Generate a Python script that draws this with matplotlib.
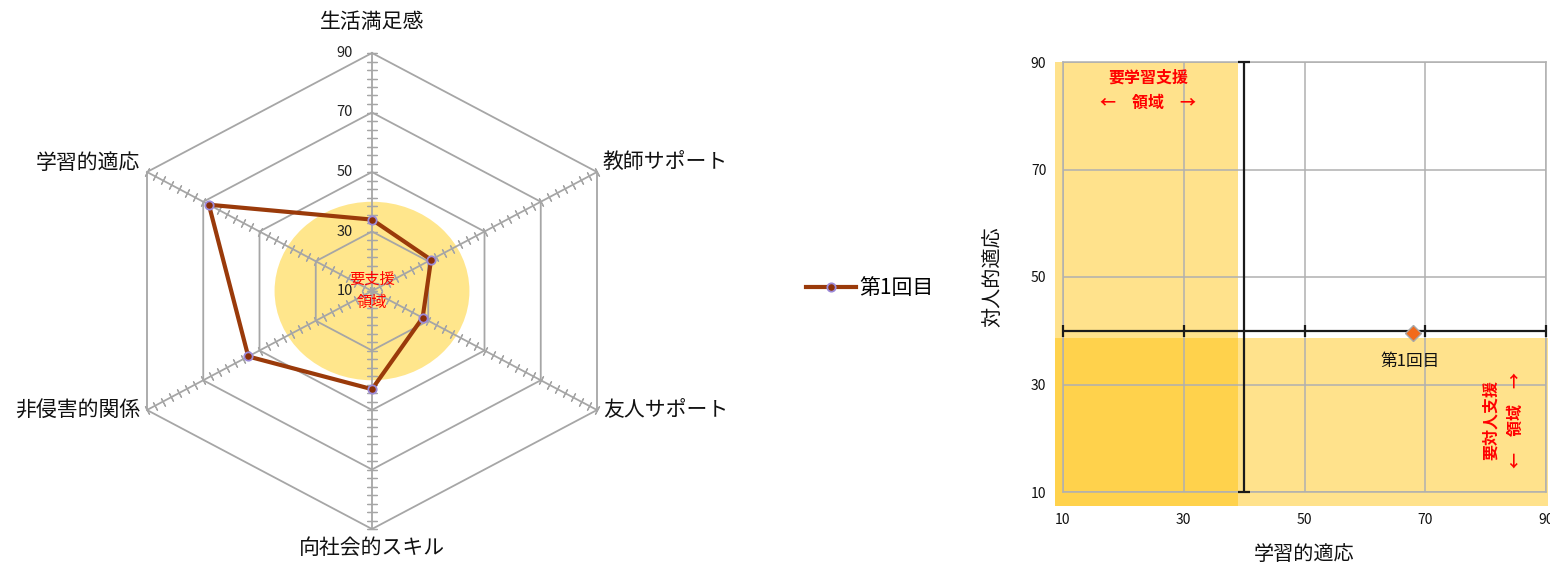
import numpy as np
import matplotlib
matplotlib.use("Agg")
import matplotlib.pyplot as plt
from matplotlib.patches import Circle, Rectangle
from matplotlib.lines import Line2D

plt.rcParams['font.family'] = ['Noto Sans CJK JP', 'DejaVu Sans']

# ---------------- data ----------------
categories = ["生活満足感", "教師サポート", "友人サポート", "向社会的スキル", "非侵害的関係", "学習的適応"]
radar_values = [34, 31, 28, 43, 54, 68]
series_name = "第1回目"
radar_ticks = [10, 30, 50, 70, 90]
radar_min, radar_max = 10, 90
support_radius = 40          # radius of the "要支援領域" circle

scatter_x = [68]             # 学習的適応
scatter_y = [39.5]           # 対人的適応
scatter_ticks = [10, 30, 50, 70, 90]
cross_x, cross_y = 40, 40    # axes crossing
band_limit_x, band_limit_y = 39, 38.7

W, H = 1550, 566
fig = plt.figure(figsize=(W / 100, H / 100), dpi=100)

# ---------------- radar (manual, horizontally stretched) ----------------
cx, cy = 372, 291
ry = 238                      # px for 80 units vertically
sx = 225 / (80 * np.cos(np.pi / 6))  # px per unit horizontally
sy = ry / 80
X = 80
axw = 2 * X * sx
axh = 2 * 80 * sy
axr = fig.add_axes([(cx - axw / 2) / W, (H - cy - axh / 2) / H, axw / W, axh / H])
axr.set_xlim(-X, X)
axr.set_ylim(-80, 80)
axr.axis('off')

n = len(categories)
phis = np.arange(n) * 2 * np.pi / n

def pos(val, phi):
    r = val - radar_min
    return r * np.sin(phi), r * np.cos(phi)

grid_c = '#A6A6A6'
# support circle
axr.add_patch(Circle((0, 0), support_radius - radar_min, facecolor='#FFE68C', edgecolor='none', zorder=0.5))
# rings
for t in radar_ticks[1:]:
    xs, ys = zip(*[pos(t, p) for p in list(phis) + [phis[0]]])
    axr.plot(xs, ys, color=grid_c, lw=1.3, zorder=1, clip_on=False)
# spokes + tick marks
minor = np.linspace(radar_min, radar_max, 4 * 7 + 1)
for p in phis:
    x0, y0 = pos(radar_min, p)
    x1, y1 = pos(radar_max, p)
    axr.plot([x0, x1], [y0, y1], color=grid_c, lw=1.3, zorder=1, clip_on=False)
    ang = np.degrees(np.arctan2(sy * np.cos(p), sx * np.sin(p)))
    mx, my = zip(*[pos(v, p) for v in minor])
    axr.plot(mx, my, linestyle='none', marker=(2, 2, ang), markersize=6.5,
             markeredgecolor=grid_c, markeredgewidth=0.9, zorder=1, clip_on=False)
# radial labels
for t in radar_ticks:
    x, y = pos(t, 0)
    axr.annotate(str(t), (x, y), xytext=(-19, 0), textcoords='offset pixels',
                 ha='right', va='center', fontsize=10.5, color='#222222')
# category labels
offsets = [((0, 31), 'center', 'center'), ((6, 9), 'left', 'center'), ((6, 0), 'left', 'center'),
           ((0, -19), 'center', 'center'), ((-7, 0), 'right', 'center'), ((-7, 9), 'right', 'center')]
for cat, p, (off, ha, va) in zip(categories, phis, offsets):
    axr.annotate(cat, pos(radar_max, p), xytext=off, textcoords='offset pixels',
                 ha=ha, va=va, fontsize=15, color='#111111')
# data
pts = [pos(v, p) for v, p in zip(radar_values, phis)]
px, py = zip(*(pts + [pts[0]]))
line_c = '#9A3A0A'
axr.plot(px, py, color=line_c, lw=3, zorder=3, solid_joinstyle='round')
axr.plot(px[:-1], py[:-1], linestyle='none', marker='o', markersize=6,
         markerfacecolor='#8B2F08', markeredgecolor='#9C8AD8', markeredgewidth=1.3, zorder=4)
axr.text(0, 0, "要支援\n領域", color='red', fontsize=11, ha='center', va='center',
         linespacing=1.5, zorder=5)

# legend
handle = Line2D([], [], color=line_c, lw=3, marker='o', markersize=6,
                markerfacecolor='#8B2F08', markeredgecolor='#9C8AD8', markeredgewidth=1.3)
fig.legend([handle], [series_name], loc='center left', bbox_to_anchor=(806 / W, 1 - 288 / H),
           frameon=False, fontsize=15, handlelength=2.4, handletextpad=0.15, borderpad=0,
           borderaxespad=0)

# ---------------- scatter ----------------
ax = fig.add_axes([1063 / W, (H - 492) / H, 483 / W, 430 / H])
ax.set_xlim(10, 90)
ax.set_ylim(10, 90)
ax.set_xticks(scatter_ticks)
ax.set_yticks(scatter_ticks)
ax.grid(True, color='#B0B0B0', lw=1.1, zorder=2)
ax.set_axisbelow(False)
for s in ax.spines.values():
    s.set_color('#B0B0B0')
    s.set_linewidth(1.1)
    s.set_zorder(2)
ax.tick_params(length=0, labelsize=10, colors='#111111')
ax.tick_params(axis='x', pad=15)
ax.tick_params(axis='y', pad=12)

band_c = '#FFC000'
x_lo, y_lo, x_hi, y_hi = 8.7, 7.4, 90.3, 90
ax.add_patch(Rectangle((x_lo, y_lo), band_limit_x - x_lo, y_hi - y_lo, facecolor=band_c,
                       alpha=0.45, edgecolor='none', zorder=1, clip_on=False))
ax.add_patch(Rectangle((x_lo, y_lo), x_hi - x_lo, band_limit_y - y_lo, facecolor=band_c,
                       alpha=0.45, edgecolor='none', zorder=1, clip_on=False))

ax.axhline(cross_y, color='#1A1A1A', lw=1.6, zorder=3)
ax.axvline(cross_x, color='#1A1A1A', lw=1.6, zorder=3)
ax.plot(scatter_ticks, [cross_y] * len(scatter_ticks), linestyle='none', marker='|',
        markersize=8, markeredgewidth=1.6, color='#1A1A1A', zorder=3, clip_on=False)
ends = [scatter_ticks[0], scatter_ticks[-1]]
ax.plot([cross_x] * len(ends), ends, linestyle='none', marker='_',
        markersize=8, markeredgewidth=1.6, color='#1A1A1A', zorder=3, clip_on=False)

ax.plot(scatter_x, scatter_y, linestyle='none', marker='D', markersize=8,
        markerfacecolor='#F26A1B', markeredgecolor='#A8A8A8', markeredgewidth=1, zorder=5)
for x, y in zip(scatter_x, scatter_y):
    ax.annotate(series_name, (x, y), xytext=(-3, -28), textcoords='offset pixels',
                ha='center', va='center', fontsize=12, color='#111111', zorder=6)

ax.text(24.1, 84.8, "要学習支援\n←　領域　→", color='red', fontsize=11.5, fontweight='bold',
        ha='center', va='center', linespacing=1.7, zorder=6)
ax.text(82.9, 23.4, "要対人支援\n←　領域　→", color='red', fontsize=11.5, fontweight='bold',
        ha='center', va='center', rotation=90, linespacing=1.7, zorder=6)

ax.set_xlabel("学習的適応", fontsize=14.5, labelpad=12, color='#111111')
ax.set_ylabel("対人的適応", fontsize=14.5, labelpad=20, color='#111111')

fig.savefig("out.png", dpi=100)
